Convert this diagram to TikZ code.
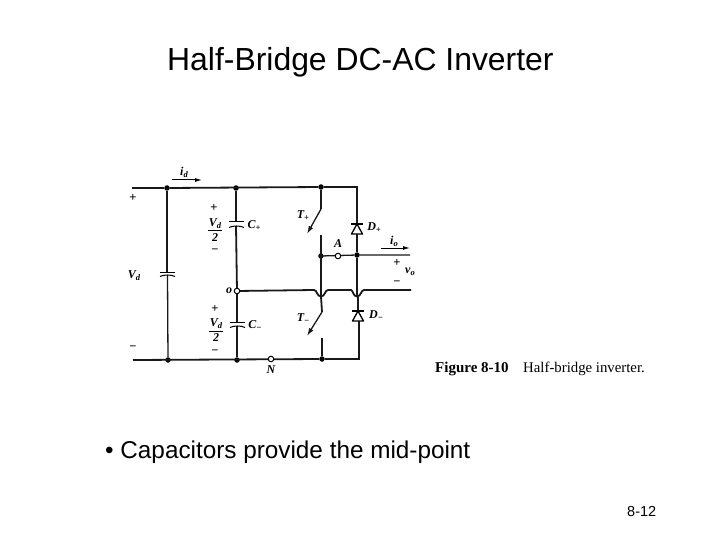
\documentclass[tikz,border=0pt]{standalone}
\usepackage{fontspec}
\setmainfont{Liberation Sans}
\newfontfamily\figserif{Liberation Serif}
\usetikzlibrary{arrows.meta}
\tikzset{
  wire/.style={line width=1.8pt,black!90},
  thinwire/.style={line width=1.3pt,black!90},
  junction/.style={circle,fill=black,inner sep=0pt,minimum size=5.5pt},
  terminal/.style={circle,draw=black,fill=white,line width=1pt,inner sep=0pt,minimum size=5.5pt},
  cirlabel/.style={font=\figserif\bfseries\itshape\fontsize{12}{12}\selectfont,inner sep=0pt},
  signlabel/.style={font=\figserif\bfseries\fontsize{12.5}{12.5}\selectfont,inner sep=0pt},
  slidetext/.style={anchor=west,inner sep=0pt},
  arrowline/.style={line width=1pt,-{Latex[length=7pt,width=4pt]}},
  diodetri/.style={line width=1.3pt,fill=white,line join=round},
}
\newcommand{\sbs}[1]{\raisebox{-2pt}{\fontsize{8.5}{8.5}\selectfont #1}}
\begin{document}
\begin{tikzpicture}[x=1pt,y=-1pt]
\useasboundingbox (0,0) rectangle (720,540);
\fill[white] (0,0) rectangle (720,540);

% slide text
\node[slidetext,font=\fontsize{31.9}{33}\selectfont] (title) at (167,62.5) {Half-Bridge DC-AC Inverter};
\node[slidetext,font=\fontsize{24.3}{26}\selectfont] (bullet) at (105,452) {• Capacitors provide the mid-point};
\node[slidetext,font=\fontsize{14.5}{15}\selectfont] (pageno) at (627,512) {8-12};
\node[slidetext,font=\figserif\bfseries\fontsize{15}{15}\selectfont] (figlabel) at (435,368.5) {Figure 8-10};
\node[slidetext,font=\figserif\fontsize{14.8}{15}\selectfont] (figcap) at (523,368.5) {Half-bridge inverter.};

% named points
\coordinate (tl) at (132,188);
\coordinate (bl) at (133,360);
\node[junction] (j1) at (167,188) {};
\node[junction] (j2) at (236,188) {};
\node[junction] (j3) at (321,187) {};
\coordinate (tr) at (357,187);
\node[junction] (j4) at (168,360) {};
\node[junction] (j5) at (237,360) {};
\node[junction] (j6) at (322,359) {};
\coordinate (br) at (359,359);
\node[junction] (jA1) at (321,256) {};
\node[junction] (jA2) at (357,255) {};
\coordinate (outA) at (410,255);
\coordinate (outO) at (411,290);
\coordinate (tpTop) at (321,209);
\coordinate (tpTip) at (307,234);
\coordinate (tpLow) at (321,235);
\coordinate (tmTop) at (322,312);
\coordinate (tmTip) at (307,336);
\coordinate (tmLow) at (322,338);

% rails
\draw[thinwire] (tl) -- (j1);
\draw[wire] (j1) -- (j3);
\draw[thinwire] (j3) -- (tr) -- (jA2);
\draw[wire] (bl) -- (j6);
\draw[thinwire] (j6) -- (br) -- (359,321);
% left capacitor
\draw[thinwire] (j1) -- (167,272);
\draw[thinwire] (167.5,275) -- (j4);
\draw[line width=1pt] (160,272) -- (175,272);
\draw[line width=1pt] (160,276.5) .. controls (164,274.5) and (171,274.5) .. (175,276.5);
% C+ and C-
\draw[wire] (j2) -- (236,222);
\draw[wire] (236,226) -- (237,291);
\draw[wire] (237,291) -- (237,322);
\draw[wire] (237,326) -- (j5);
\draw[line width=1pt] (229,222) -- (244,222);
\draw[line width=1pt] (229,227.5) .. controls (233,225.5) and (240,225.5) .. (244,227.5);
\draw[line width=1pt] (230,322) -- (245,322);
\draw[line width=1pt] (230,327.5) .. controls (234,325.5) and (241,325.5) .. (245,327.5);

% middle wire with hops
\draw[wire] (237,291) -- (314,290) .. controls (317,290) and (317,296.5) .. (321,296.5)
  .. controls (325,296.5) and (325,290) .. (328,290) -- (351,290)
  .. controls (353,290) and (353,296.5) .. (357,296.5)
  .. controls (361,296.5) and (361,290) .. (364,290) -- (outO);
\node[terminal] (o) at (237,291) {};

% switches
\draw[wire] (j3) -- (tpTop);
\draw[thinwire,-{Latex[length=8pt,width=5pt]}] (tpTop) -- (tpTip);
\draw[wire] (tpLow) -- (321,296.5);
\draw[wire] (321,296.5) -- (tmTop);
\draw[thinwire,-{Latex[length=8pt,width=5pt]}] (tmTop) -- (tmTip);
\draw[wire] (tmLow) -- (j6);

% A wire
\draw[thinwire] (jA1) -- (jA2) -- (outA);
\node[terminal] (A) at (338,256) {};

% diodes
\draw[thinwire] (jA2) -- (357,296.5);
\draw[thinwire] (358,296.5) -- (358,311);
\draw[diodetri] (357,224) -- (351.5,234) -- (362.5,234) -- cycle;
\draw[line width=1.3pt] (351,224) -- (363,224);
\draw[diodetri] (358,311) -- (352.5,321) -- (363.5,321) -- cycle;
\draw[line width=1.3pt] (352,311) -- (364,311);

\node[terminal] (N) at (271,359) {};

% current arrows
\draw[arrowline] (172,180) -- (202,180);
\draw[arrowline] (381,248) -- (410,248);

% labels
\node[signlabel] (lp) at (133,198) {+};
\node[signlabel] (lm) at (133,348) {−};
\node[cirlabel] (lVd) at (134,276) {V\sbs{d}};
\node[cirlabel] (lid) at (184,172) {i\sbs{d}};
\node[signlabel] (p1) at (214,208) {+};
\node[cirlabel] (v1) at (215,224) {V\sbs{d}};
\draw[line width=1pt] (208,231) -- (222,231);
\node[cirlabel] (t1) at (215,238) {2};
\node[signlabel] (m1) at (215,251) {−};
\node[cirlabel] (lCp) at (254,226) {C\sbs{+}};
\node[cirlabel] (lo) at (229,291) {o};
\node[signlabel] (p2) at (215,309) {+};
\node[cirlabel] (v2) at (216,324) {V\sbs{d}};
\draw[line width=1pt] (209,331) -- (223,331);
\node[cirlabel] (t2) at (216,338) {2};
\node[signlabel] (m2) at (215,352) {−};
\node[cirlabel] (lCm) at (255,326) {C\sbs{−}};
\node[cirlabel] (lN) at (271,370) {N};
\node[cirlabel] (lTp) at (303,216) {T\sbs{+}};
\node[cirlabel] (lTm) at (303,319) {T\sbs{−}};
\node[cirlabel] (lDp) at (374,228) {D\sbs{+}};
\node[cirlabel] (lDm) at (376,316) {D\sbs{−}};
\node[cirlabel] (lA) at (338,244) {A};
\node[cirlabel] (lio) at (394,241) {i\sbs{o}};
\node[signlabel] (p3) at (397,263) {+};
\node[cirlabel] (lvo) at (410,272) {v\sbs{o}};
\node[signlabel] (m3) at (397,283) {−};
\end{tikzpicture}
\end{document}
